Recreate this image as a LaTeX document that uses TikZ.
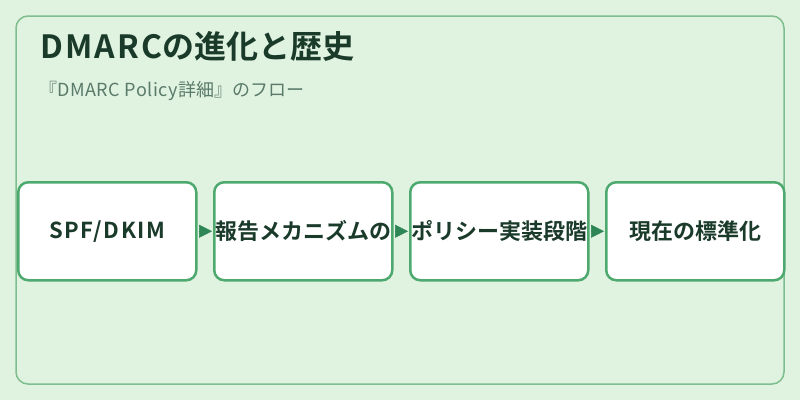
\documentclass[tikz,border=0pt]{standalone}
\usepackage{fontspec}
\usetikzlibrary{arrows.meta}
\setmainfont{Noto Sans CJK JP}
\newfontfamily\jpbold{Noto Sans CJK JP Bold}
\newfontfamily\latbold[LetterSpace=7]{Noto Sans CJK JP Bold}
\newfontfamily\latreg[LetterSpace=3]{Noto Sans CJK JP}
\definecolor{bg}{HTML}{E0F2E0}
\definecolor{frame}{HTML}{7DBD8E}
\definecolor{boxline}{HTML}{4EA96E}
\definecolor{arrowc}{HTML}{2E8555}
\definecolor{titlec}{HTML}{1A3A2A}
\definecolor{subc}{HTML}{5A7A6A}
\begin{document}
\begin{tikzpicture}[x=1pt,y=-1pt,
  stepbox/.style={draw=boxline,line width=2.5pt,fill=white,rounded corners=10pt,
    minimum width=178pt,minimum height=98pt,inner sep=0pt,anchor=north west,
    font=\jpbold\fontsize{22}{26}\selectfont,text=titlec},
  flow/.style={-{Triangle[length=13pt,width=13pt]},arrowc,line width=0.5pt,shorten <=1pt,shorten >=1pt}]
\useasboundingbox (0,0) rectangle (800,400);
\fill[bg] (0,0) rectangle (800,400);
\draw[frame,line width=1.5pt,rounded corners=12pt] (16,16) rectangle (784,384);
\node[anchor=base west,inner sep=0pt,text=titlec,font=\jpbold\fontsize{32}{38}\selectfont] (title) at (40,58) {{\latbold DMARC}の進化と歴史};
\node[anchor=base west,inner sep=0pt,text=subc,font=\fontsize{18}{22}\selectfont] (sub) at (39,96) {『{\latreg DMARC Policy}詳細』のフロー};
\node[stepbox] (b1) at (17,181) {\latbold SPF/DKIM};
\node[stepbox] (b2) at (213,181) {報告メカニズムの};
\node[stepbox] (b3) at (409,181) {ポリシー実装段階};
\node[stepbox] (b4) at (605,181) {現在の標準化};
\draw[flow] (b1) -- (b2);
\draw[flow] (b2) -- (b3);
\draw[flow] (b3) -- (b4);
\end{tikzpicture}
\end{document}
